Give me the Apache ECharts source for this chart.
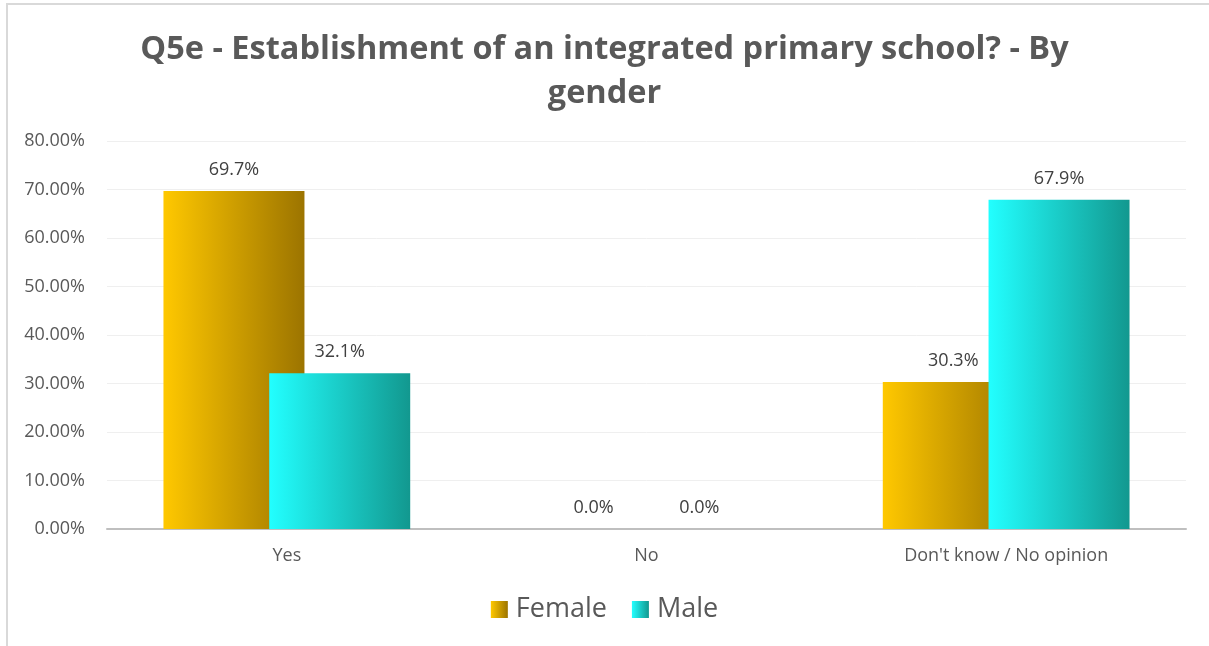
<!DOCTYPE html>
<html>
<head>
<meta charset="utf-8">
<script src="https://cdn.jsdelivr.net/npm/echarts@6/dist/echarts.min.js"></script>
<style>
  html, body { margin: 0; padding: 0; background: #fff; }
  #chart { width: 1209px; height: 646px; }
</style>
</head>
<body>
<div id="chart"></div>
<script>
// data (percent)
const categories = ['Yes', 'No', "Don't know / No opinion"];
const female = [69.7, 0.0, 30.3];
const male = [32.1, 0.0, 67.9];
const seriesNames = ['Female', 'Male'];

const chart = echarts.init(document.getElementById('chart'));

function grad(c0, c1) {
  return new echarts.graphic.LinearGradient(0, 0, 1, 0, [
    { offset: 0, color: c0 },
    { offset: 1, color: c1 }
  ]);
}

const labelStyle = {
  show: true,
  position: 'top',
  distance: 12,
  fontFamily: 'Open Sans',
  fontSize: 18,
  color: '#404040',
  formatter: p => p.value.toFixed(1) + '%'
};

const option = {
  backgroundColor: '#fff',
  animation: false,
  title: {
    text: 'Q5e - Establishment of an integrated primary school? - By\ngender',
    left: 'center',
    top: 23,
    textStyle: {
      fontFamily: 'Open Sans',
      fontWeight: 'bold',
      fontSize: 32.5,
      lineHeight: 44,
      color: '#595959'
    }
  },
  graphic: [{
    type: 'polyline',
    shape: { points: [[7, 646], [7, 4], [1209, 4]] },
    style: { stroke: '#D9D9D9', lineWidth: 2, fill: null }
  }],
  legend: {
    data: seriesNames,
    bottom: 18,
    left: 'center',
    icon: 'rect',
    itemWidth: 17,
    itemHeight: 17,
    itemGap: 25,
    textStyle: { fontFamily: 'Open Sans', fontSize: 27, color: '#595959', padding: [0, 0, 0, 3] }
  },
  grid: { left: 107, right: 23, top: 141, bottom: 117 },
  xAxis: {
    type: 'category',
    data: categories,
    axisTick: { show: false },
    axisLine: { lineStyle: { color: '#BFBFBF', width: 2 } },
    axisLabel: { fontFamily: 'Open Sans', fontSize: 18, color: '#595959', margin: 18 }
  },
  yAxis: {
    type: 'value',
    min: 0,
    max: 80,
    interval: 10,
    axisLine: { show: false },
    axisTick: { show: false },
    splitLine: { lineStyle: { color: '#EFEFEF', width: 1 } },
    axisLabel: {
      fontFamily: 'Open Sans',
      fontSize: 18,
      color: '#595959',
      margin: 22,
      formatter: v => v.toFixed(2) + '%'
    }
  },
  series: [
    {
      name: 'Female',
      type: 'bar',
      data: female,
      barWidth: 141,
      barGap: '-25%',
      itemStyle: { color: grad('#FFC800', '#9C7400') },
      label: labelStyle
    },
    {
      name: 'Male',
      type: 'bar',
      data: male,
      barWidth: 141,
      itemStyle: { color: grad('#22FFFF', '#12988F') },
      label: labelStyle
    }
  ]
};

chart.setOption(option);
</script>
</body>
</html>
